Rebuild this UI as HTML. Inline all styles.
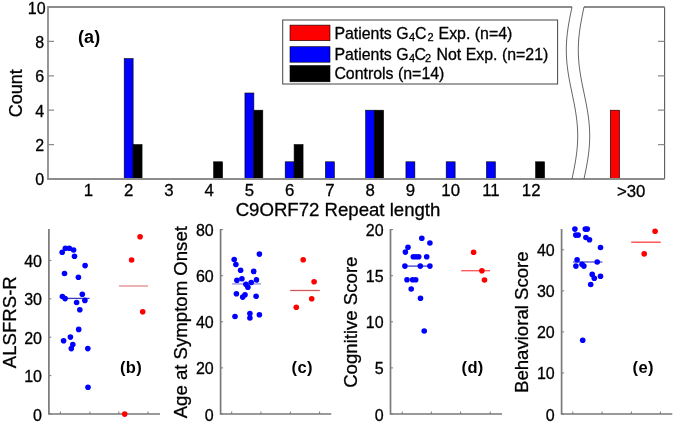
<!DOCTYPE html>
<html><head><meta charset="utf-8"><style>
html,body{margin:0;padding:0;background:#fff;}
svg{display:block;will-change:transform;}
text{font-family:"Liberation Sans", sans-serif;fill:#000;stroke:#000;stroke-width:0.3px;}
</style></head><body>
<svg width="675" height="423" viewBox="0 0 675 423">
<rect width="675" height="423" fill="#fff"/>
<rect x="124.18" y="58.60" width="8.94" height="120.40" fill="#0000ff" stroke="#000" stroke-width="0.6"/>
<rect x="133.12" y="144.60" width="8.94" height="34.40" fill="#000000" stroke="#000" stroke-width="0.6"/>
<rect x="213.62" y="161.80" width="8.94" height="17.20" fill="#000000" stroke="#000" stroke-width="0.6"/>
<rect x="244.93" y="93.00" width="8.94" height="86.00" fill="#0000ff" stroke="#000" stroke-width="0.6"/>
<rect x="253.87" y="110.20" width="8.94" height="68.80" fill="#000000" stroke="#000" stroke-width="0.6"/>
<rect x="285.18" y="161.80" width="8.94" height="17.20" fill="#0000ff" stroke="#000" stroke-width="0.6"/>
<rect x="294.12" y="144.60" width="8.94" height="34.40" fill="#000000" stroke="#000" stroke-width="0.6"/>
<rect x="325.43" y="161.80" width="8.94" height="17.20" fill="#0000ff" stroke="#000" stroke-width="0.6"/>
<rect x="365.68" y="110.20" width="8.94" height="68.80" fill="#0000ff" stroke="#000" stroke-width="0.6"/>
<rect x="374.62" y="110.20" width="8.94" height="68.80" fill="#000000" stroke="#000" stroke-width="0.6"/>
<rect x="405.93" y="161.80" width="8.94" height="17.20" fill="#0000ff" stroke="#000" stroke-width="0.6"/>
<rect x="446.18" y="161.80" width="8.94" height="17.20" fill="#0000ff" stroke="#000" stroke-width="0.6"/>
<rect x="486.43" y="161.80" width="8.94" height="17.20" fill="#0000ff" stroke="#000" stroke-width="0.6"/>
<rect x="535.62" y="161.80" width="8.94" height="17.20" fill="#000000" stroke="#000" stroke-width="0.6"/>
<rect x="610.3" y="110.20" width="9.3" height="68.80" fill="#ff0000" stroke="#000" stroke-width="0.6"/>
<path d="M664.6 7 V179" fill="none" stroke="#5a5a5a" stroke-width="1.1"/>
<path d="M664.6 7 H48 V179 H664.6" fill="none" stroke="#8c8c8c" stroke-width="1.8"/>
<path d="M48 179.00 H54 M658 179.00 H664.5" stroke="#8c8c8c" stroke-width="1.2"/>
<path d="M48 144.60 H54 M658 144.60 H664.5" stroke="#8c8c8c" stroke-width="1.2"/>
<path d="M48 110.20 H54 M658 110.20 H664.5" stroke="#8c8c8c" stroke-width="1.2"/>
<path d="M48 75.80 H54 M658 75.80 H664.5" stroke="#8c8c8c" stroke-width="1.2"/>
<path d="M48 41.40 H54 M658 41.40 H664.5" stroke="#8c8c8c" stroke-width="1.2"/>
<path d="M48 7.00 H54 M658 7.00 H664.5" stroke="#8c8c8c" stroke-width="1.2"/>
<path d="M572.00 4.00 L572.00 7.00 L571.79 8.00 L571.58 9.00 L571.38 10.00 L571.17 11.00 L570.96 12.00 L570.76 13.00 L570.56 14.00 L570.36 15.00 L570.16 16.00 L569.96 17.00 L569.77 18.00 L569.58 19.00 L569.39 20.00 L569.21 21.00 L569.03 22.00 L568.85 23.00 L568.68 24.00 L568.52 25.00 L568.35 26.00 L568.20 27.00 L568.04 28.00 L567.90 29.00 L567.75 30.00 L567.62 31.00 L567.49 32.00 L567.36 33.00 L567.25 34.00 L567.13 35.00 L567.03 36.00 L566.93 37.00 L566.84 38.00 L566.75 39.00 L566.68 40.00 L566.61 41.00 L566.54 42.00 L566.49 43.00 L566.44 44.00 L566.39 45.00 L566.36 46.00 L566.33 47.00 L566.32 48.00 L566.30 49.00 L566.30 50.00 L566.30 51.00 L566.32 52.00 L566.33 53.00 L566.36 54.00 L566.39 55.00 L566.44 56.00 L566.49 57.00 L566.54 58.00 L566.61 59.00 L566.68 60.00 L566.75 61.00 L566.84 62.00 L566.93 63.00 L567.03 64.00 L567.13 65.00 L567.25 66.00 L567.36 67.00 L567.49 68.00 L567.62 69.00 L567.75 70.00 L567.90 71.00 L568.04 72.00 L568.20 73.00 L568.35 74.00 L568.52 75.00 L568.68 76.00 L568.85 77.00 L569.03 78.00 L569.21 79.00 L569.39 80.00 L569.58 81.00 L569.77 82.00 L569.96 83.00 L570.16 84.00 L570.36 85.00 L570.56 86.00 L570.76 87.00 L570.96 88.00 L571.17 89.00 L571.38 90.00 L571.58 91.00 L571.79 92.00 L572.00 93.00 L572.21 94.00 L572.42 95.00 L572.62 96.00 L572.83 97.00 L573.04 98.00 L573.24 99.00 L573.44 100.00 L573.64 101.00 L573.84 102.00 L574.04 103.00 L574.23 104.00 L574.42 105.00 L574.61 106.00 L574.79 107.00 L574.97 108.00 L575.15 109.00 L575.32 110.00 L575.48 111.00 L575.65 112.00 L575.80 113.00 L575.96 114.00 L576.10 115.00 L576.25 116.00 L576.38 117.00 L576.51 118.00 L576.64 119.00 L576.75 120.00 L576.87 121.00 L576.97 122.00 L577.07 123.00 L577.16 124.00 L577.25 125.00 L577.32 126.00 L577.39 127.00 L577.46 128.00 L577.51 129.00 L577.56 130.00 L577.61 131.00 L577.64 132.00 L577.67 133.00 L577.68 134.00 L577.70 135.00 L577.70 136.00 L577.70 137.00 L577.68 138.00 L577.67 139.00 L577.64 140.00 L577.61 141.00 L577.56 142.00 L577.51 143.00 L577.46 144.00 L577.39 145.00 L577.32 146.00 L577.25 147.00 L577.16 148.00 L577.07 149.00 L576.97 150.00 L576.87 151.00 L576.75 152.00 L576.64 153.00 L576.51 154.00 L576.38 155.00 L576.25 156.00 L576.10 157.00 L575.96 158.00 L575.80 159.00 L575.65 160.00 L575.48 161.00 L575.32 162.00 L575.15 163.00 L574.97 164.00 L574.79 165.00 L574.61 166.00 L574.42 167.00 L574.23 168.00 L574.04 169.00 L573.84 170.00 L573.64 171.00 L573.44 172.00 L573.24 173.00 L573.04 174.00 L572.83 175.00 L572.62 176.00 L572.42 177.00 L572.21 178.00 L572.00 179.00 L572.00 183.00 L584.00 183.00 L584.00 179.00 L584.21 178.00 L584.42 177.00 L584.62 176.00 L584.83 175.00 L585.04 174.00 L585.24 173.00 L585.44 172.00 L585.64 171.00 L585.84 170.00 L586.04 169.00 L586.23 168.00 L586.42 167.00 L586.61 166.00 L586.79 165.00 L586.97 164.00 L587.15 163.00 L587.32 162.00 L587.48 161.00 L587.65 160.00 L587.80 159.00 L587.96 158.00 L588.10 157.00 L588.25 156.00 L588.38 155.00 L588.51 154.00 L588.64 153.00 L588.75 152.00 L588.87 151.00 L588.97 150.00 L589.07 149.00 L589.16 148.00 L589.25 147.00 L589.32 146.00 L589.39 145.00 L589.46 144.00 L589.51 143.00 L589.56 142.00 L589.61 141.00 L589.64 140.00 L589.67 139.00 L589.68 138.00 L589.70 137.00 L589.70 136.00 L589.70 135.00 L589.68 134.00 L589.67 133.00 L589.64 132.00 L589.61 131.00 L589.56 130.00 L589.51 129.00 L589.46 128.00 L589.39 127.00 L589.32 126.00 L589.25 125.00 L589.16 124.00 L589.07 123.00 L588.97 122.00 L588.87 121.00 L588.75 120.00 L588.64 119.00 L588.51 118.00 L588.38 117.00 L588.25 116.00 L588.10 115.00 L587.96 114.00 L587.80 113.00 L587.65 112.00 L587.48 111.00 L587.32 110.00 L587.15 109.00 L586.97 108.00 L586.79 107.00 L586.61 106.00 L586.42 105.00 L586.23 104.00 L586.04 103.00 L585.84 102.00 L585.64 101.00 L585.44 100.00 L585.24 99.00 L585.04 98.00 L584.83 97.00 L584.62 96.00 L584.42 95.00 L584.21 94.00 L584.00 93.00 L583.79 92.00 L583.58 91.00 L583.38 90.00 L583.17 89.00 L582.96 88.00 L582.76 87.00 L582.56 86.00 L582.36 85.00 L582.16 84.00 L581.96 83.00 L581.77 82.00 L581.58 81.00 L581.39 80.00 L581.21 79.00 L581.03 78.00 L580.85 77.00 L580.68 76.00 L580.52 75.00 L580.35 74.00 L580.20 73.00 L580.04 72.00 L579.90 71.00 L579.75 70.00 L579.62 69.00 L579.49 68.00 L579.36 67.00 L579.25 66.00 L579.13 65.00 L579.03 64.00 L578.93 63.00 L578.84 62.00 L578.75 61.00 L578.68 60.00 L578.61 59.00 L578.54 58.00 L578.49 57.00 L578.44 56.00 L578.39 55.00 L578.36 54.00 L578.33 53.00 L578.32 52.00 L578.30 51.00 L578.30 50.00 L578.30 49.00 L578.32 48.00 L578.33 47.00 L578.36 46.00 L578.39 45.00 L578.44 44.00 L578.49 43.00 L578.54 42.00 L578.61 41.00 L578.68 40.00 L578.75 39.00 L578.84 38.00 L578.93 37.00 L579.03 36.00 L579.13 35.00 L579.25 34.00 L579.36 33.00 L579.49 32.00 L579.62 31.00 L579.75 30.00 L579.90 29.00 L580.04 28.00 L580.20 27.00 L580.35 26.00 L580.52 25.00 L580.68 24.00 L580.85 23.00 L581.03 22.00 L581.21 21.00 L581.39 20.00 L581.58 19.00 L581.77 18.00 L581.96 17.00 L582.16 16.00 L582.36 15.00 L582.56 14.00 L582.76 13.00 L582.96 12.00 L583.17 11.00 L583.38 10.00 L583.58 9.00 L583.79 8.00 L584.00 7.00 L584.00 4.00 Z" fill="#fff" stroke="none"/>
<path d="M560 179 H600" stroke="#8c8c8c" stroke-width="1.8"/>
<path d="M572.00 7.00 L571.79 8.00 L571.58 9.00 L571.38 10.00 L571.17 11.00 L570.96 12.00 L570.76 13.00 L570.56 14.00 L570.36 15.00 L570.16 16.00 L569.96 17.00 L569.77 18.00 L569.58 19.00 L569.39 20.00 L569.21 21.00 L569.03 22.00 L568.85 23.00 L568.68 24.00 L568.52 25.00 L568.35 26.00 L568.20 27.00 L568.04 28.00 L567.90 29.00 L567.75 30.00 L567.62 31.00 L567.49 32.00 L567.36 33.00 L567.25 34.00 L567.13 35.00 L567.03 36.00 L566.93 37.00 L566.84 38.00 L566.75 39.00 L566.68 40.00 L566.61 41.00 L566.54 42.00 L566.49 43.00 L566.44 44.00 L566.39 45.00 L566.36 46.00 L566.33 47.00 L566.32 48.00 L566.30 49.00 L566.30 50.00 L566.30 51.00 L566.32 52.00 L566.33 53.00 L566.36 54.00 L566.39 55.00 L566.44 56.00 L566.49 57.00 L566.54 58.00 L566.61 59.00 L566.68 60.00 L566.75 61.00 L566.84 62.00 L566.93 63.00 L567.03 64.00 L567.13 65.00 L567.25 66.00 L567.36 67.00 L567.49 68.00 L567.62 69.00 L567.75 70.00 L567.90 71.00 L568.04 72.00 L568.20 73.00 L568.35 74.00 L568.52 75.00 L568.68 76.00 L568.85 77.00 L569.03 78.00 L569.21 79.00 L569.39 80.00 L569.58 81.00 L569.77 82.00 L569.96 83.00 L570.16 84.00 L570.36 85.00 L570.56 86.00 L570.76 87.00 L570.96 88.00 L571.17 89.00 L571.38 90.00 L571.58 91.00 L571.79 92.00 L572.00 93.00 L572.21 94.00 L572.42 95.00 L572.62 96.00 L572.83 97.00 L573.04 98.00 L573.24 99.00 L573.44 100.00 L573.64 101.00 L573.84 102.00 L574.04 103.00 L574.23 104.00 L574.42 105.00 L574.61 106.00 L574.79 107.00 L574.97 108.00 L575.15 109.00 L575.32 110.00 L575.48 111.00 L575.65 112.00 L575.80 113.00 L575.96 114.00 L576.10 115.00 L576.25 116.00 L576.38 117.00 L576.51 118.00 L576.64 119.00 L576.75 120.00 L576.87 121.00 L576.97 122.00 L577.07 123.00 L577.16 124.00 L577.25 125.00 L577.32 126.00 L577.39 127.00 L577.46 128.00 L577.51 129.00 L577.56 130.00 L577.61 131.00 L577.64 132.00 L577.67 133.00 L577.68 134.00 L577.70 135.00 L577.70 136.00 L577.70 137.00 L577.68 138.00 L577.67 139.00 L577.64 140.00 L577.61 141.00 L577.56 142.00 L577.51 143.00 L577.46 144.00 L577.39 145.00 L577.32 146.00 L577.25 147.00 L577.16 148.00 L577.07 149.00 L576.97 150.00 L576.87 151.00 L576.75 152.00 L576.64 153.00 L576.51 154.00 L576.38 155.00 L576.25 156.00 L576.10 157.00 L575.96 158.00 L575.80 159.00 L575.65 160.00 L575.48 161.00 L575.32 162.00 L575.15 163.00 L574.97 164.00 L574.79 165.00 L574.61 166.00 L574.42 167.00 L574.23 168.00 L574.04 169.00 L573.84 170.00 L573.64 171.00 L573.44 172.00 L573.24 173.00 L573.04 174.00 L572.83 175.00 L572.62 176.00 L572.42 177.00 L572.21 178.00 L572.00 179.00" fill="none" stroke="#555" stroke-width="0.9"/>
<path d="M584.00 7.00 L583.79 8.00 L583.58 9.00 L583.38 10.00 L583.17 11.00 L582.96 12.00 L582.76 13.00 L582.56 14.00 L582.36 15.00 L582.16 16.00 L581.96 17.00 L581.77 18.00 L581.58 19.00 L581.39 20.00 L581.21 21.00 L581.03 22.00 L580.85 23.00 L580.68 24.00 L580.52 25.00 L580.35 26.00 L580.20 27.00 L580.04 28.00 L579.90 29.00 L579.75 30.00 L579.62 31.00 L579.49 32.00 L579.36 33.00 L579.25 34.00 L579.13 35.00 L579.03 36.00 L578.93 37.00 L578.84 38.00 L578.75 39.00 L578.68 40.00 L578.61 41.00 L578.54 42.00 L578.49 43.00 L578.44 44.00 L578.39 45.00 L578.36 46.00 L578.33 47.00 L578.32 48.00 L578.30 49.00 L578.30 50.00 L578.30 51.00 L578.32 52.00 L578.33 53.00 L578.36 54.00 L578.39 55.00 L578.44 56.00 L578.49 57.00 L578.54 58.00 L578.61 59.00 L578.68 60.00 L578.75 61.00 L578.84 62.00 L578.93 63.00 L579.03 64.00 L579.13 65.00 L579.25 66.00 L579.36 67.00 L579.49 68.00 L579.62 69.00 L579.75 70.00 L579.90 71.00 L580.04 72.00 L580.20 73.00 L580.35 74.00 L580.52 75.00 L580.68 76.00 L580.85 77.00 L581.03 78.00 L581.21 79.00 L581.39 80.00 L581.58 81.00 L581.77 82.00 L581.96 83.00 L582.16 84.00 L582.36 85.00 L582.56 86.00 L582.76 87.00 L582.96 88.00 L583.17 89.00 L583.38 90.00 L583.58 91.00 L583.79 92.00 L584.00 93.00 L584.21 94.00 L584.42 95.00 L584.62 96.00 L584.83 97.00 L585.04 98.00 L585.24 99.00 L585.44 100.00 L585.64 101.00 L585.84 102.00 L586.04 103.00 L586.23 104.00 L586.42 105.00 L586.61 106.00 L586.79 107.00 L586.97 108.00 L587.15 109.00 L587.32 110.00 L587.48 111.00 L587.65 112.00 L587.80 113.00 L587.96 114.00 L588.10 115.00 L588.25 116.00 L588.38 117.00 L588.51 118.00 L588.64 119.00 L588.75 120.00 L588.87 121.00 L588.97 122.00 L589.07 123.00 L589.16 124.00 L589.25 125.00 L589.32 126.00 L589.39 127.00 L589.46 128.00 L589.51 129.00 L589.56 130.00 L589.61 131.00 L589.64 132.00 L589.67 133.00 L589.68 134.00 L589.70 135.00 L589.70 136.00 L589.70 137.00 L589.68 138.00 L589.67 139.00 L589.64 140.00 L589.61 141.00 L589.56 142.00 L589.51 143.00 L589.46 144.00 L589.39 145.00 L589.32 146.00 L589.25 147.00 L589.16 148.00 L589.07 149.00 L588.97 150.00 L588.87 151.00 L588.75 152.00 L588.64 153.00 L588.51 154.00 L588.38 155.00 L588.25 156.00 L588.10 157.00 L587.96 158.00 L587.80 159.00 L587.65 160.00 L587.48 161.00 L587.32 162.00 L587.15 163.00 L586.97 164.00 L586.79 165.00 L586.61 166.00 L586.42 167.00 L586.23 168.00 L586.04 169.00 L585.84 170.00 L585.64 171.00 L585.44 172.00 L585.24 173.00 L585.04 174.00 L584.83 175.00 L584.62 176.00 L584.42 177.00 L584.21 178.00 L584.00 179.00" fill="none" stroke="#555" stroke-width="0.9"/>
<text x="44.1" y="185.40" text-anchor="end" font-size="16">0</text>
<text x="44.1" y="151.00" text-anchor="end" font-size="16">2</text>
<text x="44.1" y="116.60" text-anchor="end" font-size="16">4</text>
<text x="44.1" y="82.20" text-anchor="end" font-size="16">6</text>
<text x="44.1" y="47.80" text-anchor="end" font-size="16">8</text>
<text x="45.6" y="14.20" text-anchor="end" font-size="16">10</text>
<text x="88.40" y="196.4" text-anchor="middle" font-size="16.8">1</text>
<text x="128.65" y="196.4" text-anchor="middle" font-size="16.8">2</text>
<text x="168.90" y="196.4" text-anchor="middle" font-size="16.8">3</text>
<text x="209.15" y="196.4" text-anchor="middle" font-size="16.8">4</text>
<text x="249.40" y="196.4" text-anchor="middle" font-size="16.8">5</text>
<text x="289.65" y="196.4" text-anchor="middle" font-size="16.8">6</text>
<text x="329.90" y="196.4" text-anchor="middle" font-size="16.8">7</text>
<text x="370.15" y="196.4" text-anchor="middle" font-size="16.8">8</text>
<text x="410.40" y="196.4" text-anchor="middle" font-size="16.8">9</text>
<text x="450.65" y="196.4" text-anchor="middle" font-size="16.8">10</text>
<text x="490.90" y="196.4" text-anchor="middle" font-size="16.8">11</text>
<text x="531.15" y="196.4" text-anchor="middle" font-size="16.8">12</text>
<text x="631.2" y="197" text-anchor="middle" font-size="16.8">&gt;30</text>
<text x="338" y="215.5" text-anchor="middle" font-size="18.6">C9ORF72 Repeat length</text>
<text transform="translate(21.6 93.3) rotate(-90)" text-anchor="middle" font-size="18">Count</text>
<text x="77.9" y="42.6" font-size="18" letter-spacing="0.2" font-weight="bold" style="stroke:none">(a)</text>
<rect x="282.7" y="20" width="274.9" height="64" fill="#fff" stroke="#444" stroke-width="1"/>
<rect x="290" y="25.1" width="40" height="15.6" fill="#ff0000" stroke="#000" stroke-width="0.6"/>
<rect x="290" y="46.7" width="40" height="15.5" fill="#0000ff" stroke="#000" stroke-width="0.6"/>
<rect x="290" y="65.6" width="40" height="16.2" fill="#000" stroke="#000" stroke-width="0.6"/>
<text x="334.4" y="38.8" font-size="15.9">Patients G<tspan font-size="11" dy="2.6" dx="0.5">4</tspan><tspan dy="-2.6" dx="-0.3">C</tspan><tspan font-size="11" dy="2.6" dx="1.0">2</tspan><tspan dy="-2.6" dx="0.6"> Exp. (n=4)</tspan></text>
<text x="334.4" y="59.7" font-size="15.9">Patients G<tspan font-size="11" dy="2.6" dx="0.5">4</tspan><tspan dy="-2.6" dx="-0.8">C</tspan><tspan font-size="11" dy="2.6" dx="-1.0">2</tspan><tspan dy="-2.6" dx="1.1"> Not Exp. (n=21)</tspan></text>
<text x="334.4" y="78.8" font-size="15.9">Controls (n=14)</text>
<path d="M48.9 229 V414.0 H160" fill="none" stroke="#7a7a7a" stroke-width="1.7"/>
<path d="M48.9 414.00 H51.4" stroke="#7a7a7a" stroke-width="1"/>
<text x="42.0" y="420.50" text-anchor="end" font-size="16">0</text>
<path d="M48.9 375.60 H51.4" stroke="#7a7a7a" stroke-width="1"/>
<text x="42.0" y="382.10" text-anchor="end" font-size="16">10</text>
<path d="M48.9 337.20 H51.4" stroke="#7a7a7a" stroke-width="1"/>
<text x="42.0" y="343.70" text-anchor="end" font-size="16">20</text>
<path d="M48.9 298.80 H51.4" stroke="#7a7a7a" stroke-width="1"/>
<text x="42.0" y="305.30" text-anchor="end" font-size="16">30</text>
<path d="M48.9 260.40 H51.4" stroke="#7a7a7a" stroke-width="1"/>
<text x="42.0" y="266.90" text-anchor="end" font-size="16">40</text>
<path d="M60.4 414.0 V411.5" stroke="#7a7a7a" stroke-width="1"/>
<path d="M89.9 414.0 V411.5" stroke="#7a7a7a" stroke-width="1"/>
<path d="M118.8 414.0 V411.5" stroke="#7a7a7a" stroke-width="1"/>
<path d="M148 414.0 V411.5" stroke="#7a7a7a" stroke-width="1"/>
<text transform="translate(15.7 322.2) rotate(-90)" text-anchor="middle" font-size="18.6">ALSFRS-R</text>
<text x="119.9" y="372.9" font-size="16.5" letter-spacing="0.4" font-weight="bold" style="stroke:none">(b)</text>
<path d="M64.6 298.4 H89.6" stroke="#3a3ab8" stroke-width="1.3"/>
<path d="M118.9 286 H148" stroke="#e08a8a" stroke-width="1.3"/>
<circle cx="62.2" cy="252.2" r="2.8" fill="#0000ff"/>
<circle cx="65.4" cy="248.3" r="2.8" fill="#0000ff"/>
<circle cx="69.3" cy="248.3" r="2.8" fill="#0000ff"/>
<circle cx="73.6" cy="250" r="2.8" fill="#0000ff"/>
<circle cx="74.5" cy="256.2" r="2.8" fill="#0000ff"/>
<circle cx="85.1" cy="265.6" r="2.8" fill="#0000ff"/>
<circle cx="64.5" cy="273.5" r="2.8" fill="#0000ff"/>
<circle cx="78.4" cy="277.2" r="2.8" fill="#0000ff"/>
<circle cx="62.4" cy="296.5" r="2.8" fill="#0000ff"/>
<circle cx="65.1" cy="298.6" r="2.8" fill="#0000ff"/>
<circle cx="82.3" cy="294.2" r="2.8" fill="#0000ff"/>
<circle cx="76.6" cy="302.5" r="2.8" fill="#0000ff"/>
<circle cx="84.9" cy="300.4" r="2.8" fill="#0000ff"/>
<circle cx="79.8" cy="309.8" r="2.8" fill="#0000ff"/>
<circle cx="78.7" cy="329.4" r="2.8" fill="#0000ff"/>
<circle cx="70.4" cy="337.1" r="2.8" fill="#0000ff"/>
<circle cx="63.6" cy="340.7" r="2.8" fill="#0000ff"/>
<circle cx="72.8" cy="344.5" r="2.8" fill="#0000ff"/>
<circle cx="71.3" cy="348.6" r="2.8" fill="#0000ff"/>
<circle cx="87.8" cy="348.6" r="2.8" fill="#0000ff"/>
<circle cx="88" cy="387.2" r="2.8" fill="#0000ff"/>
<circle cx="140.1" cy="236.8" r="2.8" fill="#ff0000"/>
<circle cx="131.6" cy="260" r="2.8" fill="#ff0000"/>
<circle cx="142.7" cy="311.7" r="2.8" fill="#ff0000"/>
<circle cx="124.7" cy="414.1" r="2.8" fill="#ff0000"/>
<path d="M220.6 229 V414.0 H331.3" fill="none" stroke="#7a7a7a" stroke-width="1.7"/>
<path d="M220.6 414.00 H223.1" stroke="#7a7a7a" stroke-width="1"/>
<text x="213.7" y="420.50" text-anchor="end" font-size="16">0</text>
<path d="M220.6 367.90 H223.1" stroke="#7a7a7a" stroke-width="1"/>
<text x="213.7" y="374.40" text-anchor="end" font-size="16">20</text>
<path d="M220.6 321.80 H223.1" stroke="#7a7a7a" stroke-width="1"/>
<text x="213.7" y="328.30" text-anchor="end" font-size="16">40</text>
<path d="M220.6 275.70 H223.1" stroke="#7a7a7a" stroke-width="1"/>
<text x="213.7" y="282.20" text-anchor="end" font-size="16">60</text>
<path d="M220.6 229.60 H223.1" stroke="#7a7a7a" stroke-width="1"/>
<text x="213.7" y="236.10" text-anchor="end" font-size="16">80</text>
<path d="M231.7 414.0 V411.5" stroke="#7a7a7a" stroke-width="1"/>
<path d="M260.9 414.0 V411.5" stroke="#7a7a7a" stroke-width="1"/>
<path d="M290.4 414.0 V411.5" stroke="#7a7a7a" stroke-width="1"/>
<path d="M319.6 414.0 V411.5" stroke="#7a7a7a" stroke-width="1"/>
<text transform="translate(187.4 322.2) rotate(-90)" text-anchor="middle" font-size="18.6">Age at Symptom Onset</text>
<text x="291.6" y="372.9" font-size="16.5" letter-spacing="0.4" font-weight="bold" style="stroke:none">(c)</text>
<path d="M232.1 283.9 H260.9" stroke="#9090e0" stroke-width="1.3"/>
<path d="M290.2 290.5 H319.8" stroke="#d05858" stroke-width="1.3"/>
<circle cx="259.4" cy="254.1" r="2.8" fill="#0000ff"/>
<circle cx="234.2" cy="259.5" r="2.8" fill="#0000ff"/>
<circle cx="235.9" cy="264.5" r="2.8" fill="#0000ff"/>
<circle cx="240.6" cy="270.2" r="2.8" fill="#0000ff"/>
<circle cx="253.7" cy="271.4" r="2.8" fill="#0000ff"/>
<circle cx="236.9" cy="280.3" r="2.8" fill="#0000ff"/>
<circle cx="241.9" cy="278.7" r="2.8" fill="#0000ff"/>
<circle cx="256.4" cy="279.9" r="2.8" fill="#0000ff"/>
<circle cx="245.9" cy="284.2" r="2.8" fill="#0000ff"/>
<circle cx="251.2" cy="282.5" r="2.8" fill="#0000ff"/>
<circle cx="247.9" cy="287.3" r="2.8" fill="#0000ff"/>
<circle cx="236.4" cy="293.7" r="2.8" fill="#0000ff"/>
<circle cx="242.7" cy="297.1" r="2.8" fill="#0000ff"/>
<circle cx="245" cy="294.8" r="2.8" fill="#0000ff"/>
<circle cx="256.1" cy="296.2" r="2.8" fill="#0000ff"/>
<circle cx="235" cy="316.5" r="2.8" fill="#0000ff"/>
<circle cx="249.9" cy="313.6" r="2.8" fill="#0000ff"/>
<circle cx="249.9" cy="318" r="2.8" fill="#0000ff"/>
<circle cx="259.4" cy="314.7" r="2.8" fill="#0000ff"/>
<circle cx="303.2" cy="259.7" r="2.8" fill="#ff0000"/>
<circle cx="314.1" cy="281.7" r="2.8" fill="#ff0000"/>
<circle cx="311.7" cy="298.7" r="2.8" fill="#ff0000"/>
<circle cx="296.3" cy="307.2" r="2.8" fill="#ff0000"/>
<path d="M390.5 229 V414.0 H502" fill="none" stroke="#7a7a7a" stroke-width="1.7"/>
<path d="M390.5 414.00 H393.0" stroke="#7a7a7a" stroke-width="1"/>
<text x="383.6" y="420.50" text-anchor="end" font-size="16">0</text>
<path d="M390.5 367.90 H393.0" stroke="#7a7a7a" stroke-width="1"/>
<text x="383.6" y="374.40" text-anchor="end" font-size="16">5</text>
<path d="M390.5 321.80 H393.0" stroke="#7a7a7a" stroke-width="1"/>
<text x="383.6" y="328.30" text-anchor="end" font-size="16">10</text>
<path d="M390.5 275.70 H393.0" stroke="#7a7a7a" stroke-width="1"/>
<text x="383.6" y="282.20" text-anchor="end" font-size="16">15</text>
<path d="M390.5 229.60 H393.0" stroke="#7a7a7a" stroke-width="1"/>
<text x="383.6" y="236.10" text-anchor="end" font-size="16">20</text>
<path d="M402.2 414.0 V411.5" stroke="#7a7a7a" stroke-width="1"/>
<path d="M431.3 414.0 V411.5" stroke="#7a7a7a" stroke-width="1"/>
<path d="M460.6 414.0 V411.5" stroke="#7a7a7a" stroke-width="1"/>
<path d="M490.2 414.0 V411.5" stroke="#7a7a7a" stroke-width="1"/>
<text transform="translate(357.3 322.2) rotate(-90)" text-anchor="middle" font-size="18.6">Cognitive Score</text>
<text x="461.5" y="372.9" font-size="16.5" letter-spacing="0.4" font-weight="bold" style="stroke:none">(d)</text>
<path d="M404.9 266.1 H429.9" stroke="#3a3ad0" stroke-width="1.3"/>
<path d="M461.2 270.7 H490" stroke="#ff5050" stroke-width="1.3"/>
<circle cx="421.8" cy="238.3" r="2.8" fill="#0000ff"/>
<circle cx="429.9" cy="243" r="2.8" fill="#0000ff"/>
<circle cx="408" cy="247.3" r="2.8" fill="#0000ff"/>
<circle cx="405.4" cy="252.1" r="2.8" fill="#0000ff"/>
<circle cx="413.3" cy="256.8" r="2.8" fill="#0000ff"/>
<circle cx="416" cy="256.8" r="2.8" fill="#0000ff"/>
<circle cx="418.7" cy="256.8" r="2.8" fill="#0000ff"/>
<circle cx="426.7" cy="256.8" r="2.8" fill="#0000ff"/>
<circle cx="404.9" cy="266.1" r="2.8" fill="#0000ff"/>
<circle cx="420.3" cy="266.1" r="2.8" fill="#0000ff"/>
<circle cx="429.9" cy="266.1" r="2.8" fill="#0000ff"/>
<circle cx="407" cy="279.7" r="2.8" fill="#0000ff"/>
<circle cx="412.6" cy="279.7" r="2.8" fill="#0000ff"/>
<circle cx="415.7" cy="279.7" r="2.8" fill="#0000ff"/>
<circle cx="411.2" cy="289" r="2.8" fill="#0000ff"/>
<circle cx="420.5" cy="298.3" r="2.8" fill="#0000ff"/>
<circle cx="424.2" cy="331" r="2.8" fill="#0000ff"/>
<circle cx="473.6" cy="252.2" r="2.8" fill="#ff0000"/>
<circle cx="481.9" cy="270.7" r="2.8" fill="#ff0000"/>
<circle cx="484.5" cy="280" r="2.8" fill="#ff0000"/>
<path d="M561.6 229 V414.0 H672.3" fill="none" stroke="#7a7a7a" stroke-width="1.7"/>
<path d="M561.6 414.00 H564.1" stroke="#7a7a7a" stroke-width="1"/>
<text x="554.7" y="420.50" text-anchor="end" font-size="16">0</text>
<path d="M561.6 372.95 H564.1" stroke="#7a7a7a" stroke-width="1"/>
<text x="554.7" y="379.45" text-anchor="end" font-size="16">10</text>
<path d="M561.6 331.90 H564.1" stroke="#7a7a7a" stroke-width="1"/>
<text x="554.7" y="338.40" text-anchor="end" font-size="16">20</text>
<path d="M561.6 290.85 H564.1" stroke="#7a7a7a" stroke-width="1"/>
<text x="554.7" y="297.35" text-anchor="end" font-size="16">30</text>
<path d="M561.6 249.80 H564.1" stroke="#7a7a7a" stroke-width="1"/>
<text x="554.7" y="256.30" text-anchor="end" font-size="16">40</text>
<path d="M572.8 414.0 V411.5" stroke="#7a7a7a" stroke-width="1"/>
<path d="M602.1 414.0 V411.5" stroke="#7a7a7a" stroke-width="1"/>
<path d="M631.4 414.0 V411.5" stroke="#7a7a7a" stroke-width="1"/>
<path d="M660.4 414.0 V411.5" stroke="#7a7a7a" stroke-width="1"/>
<text transform="translate(528.4 322.2) rotate(-90)" text-anchor="middle" font-size="18.6">Behavioral Score</text>
<text x="632.6" y="372.9" font-size="16.5" letter-spacing="0.4" font-weight="bold" style="stroke:none">(e)</text>
<path d="M573 262 H602.4" stroke="#5050c8" stroke-width="1.3"/>
<path d="M631.2 242.2 H660.8" stroke="#ff4040" stroke-width="1.3"/>
<circle cx="574.9" cy="229.1" r="2.8" fill="#0000ff"/>
<circle cx="585.3" cy="229.1" r="2.8" fill="#0000ff"/>
<circle cx="587.3" cy="229.1" r="2.8" fill="#0000ff"/>
<circle cx="575.8" cy="235.1" r="2.8" fill="#0000ff"/>
<circle cx="578.2" cy="235.1" r="2.8" fill="#0000ff"/>
<circle cx="585.9" cy="237.5" r="2.8" fill="#0000ff"/>
<circle cx="589.5" cy="239.7" r="2.8" fill="#0000ff"/>
<circle cx="600.5" cy="247.5" r="2.8" fill="#0000ff"/>
<circle cx="577.1" cy="259.7" r="2.8" fill="#0000ff"/>
<circle cx="575.9" cy="266.1" r="2.8" fill="#0000ff"/>
<circle cx="582" cy="264.2" r="2.8" fill="#0000ff"/>
<circle cx="583.9" cy="266.1" r="2.8" fill="#0000ff"/>
<circle cx="597.2" cy="262" r="2.8" fill="#0000ff"/>
<circle cx="592.2" cy="274.4" r="2.8" fill="#0000ff"/>
<circle cx="594.3" cy="278.2" r="2.8" fill="#0000ff"/>
<circle cx="600.5" cy="276.3" r="2.8" fill="#0000ff"/>
<circle cx="590.7" cy="284.5" r="2.8" fill="#0000ff"/>
<circle cx="582.7" cy="340.2" r="2.8" fill="#0000ff"/>
<circle cx="655.1" cy="231.2" r="2.8" fill="#ff0000"/>
<circle cx="644.2" cy="253.9" r="2.8" fill="#ff0000"/>
</svg>
</body></html>
